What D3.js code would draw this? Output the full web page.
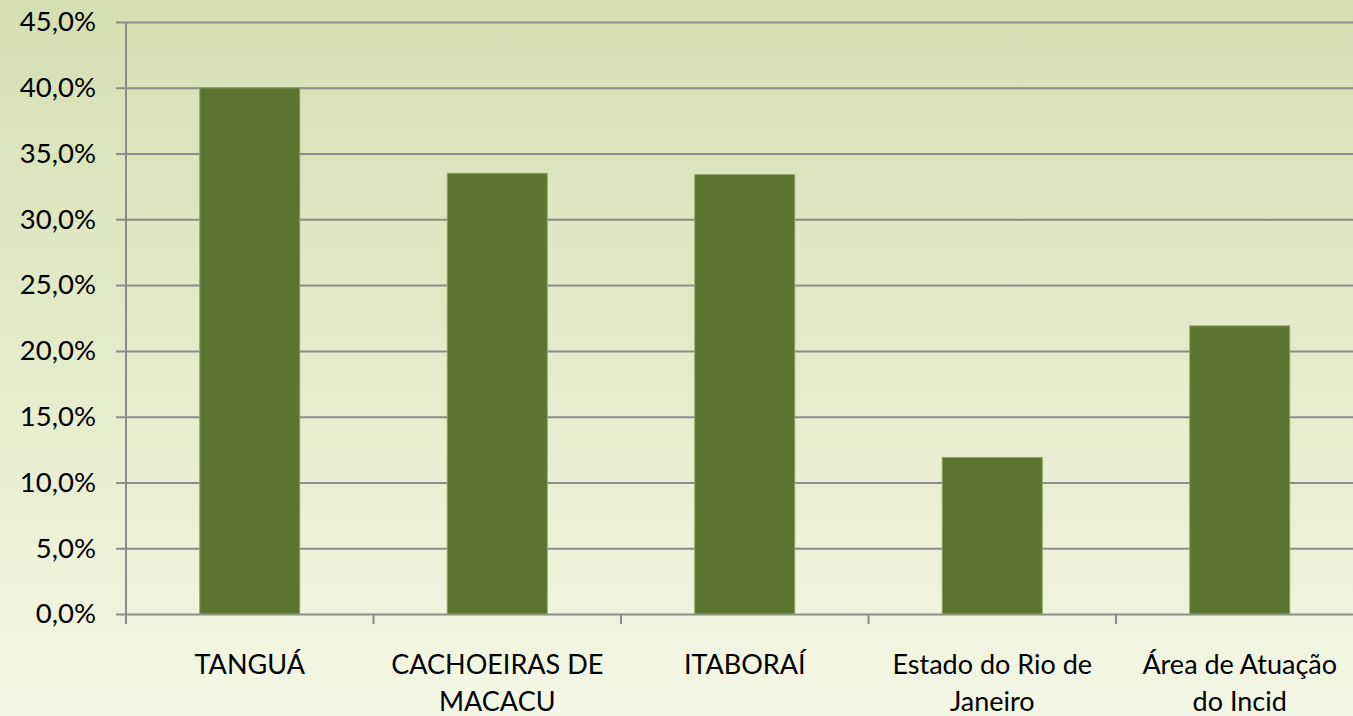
<!DOCTYPE html>
<html>
<head>
<meta charset="utf-8">
<script src="https://cdn.jsdelivr.net/npm/d3@7"></script>
<style>
  body { margin: 0; overflow: hidden; }
  text { font-family: Lato, "Open Sans", sans-serif; fill: #000; }
</style>
</head>
<body>
<div id="container"></div>
<script>
/* DATA */
const categories = ["TANGUÁ", "CACHOEIRAS DE MACACU", "ITABORAÍ", "Estado do Rio de Janeiro", "Área de Atuação do Incid"];
const values = [0.400, 0.335, 0.334, 0.119, 0.219];
const yTicks = [0, 0.05, 0.10, 0.15, 0.20, 0.25, 0.30, 0.35, 0.40, 0.45];

const width = 1353, height = 716;
const margin = { top: 22, left: 126, bottom: 102 };

const svg = d3.select("#container").append("svg")
  .attr("width", width)
  .attr("height", height);

// background gradient
const grad = svg.append("defs").append("linearGradient")
  .attr("id", "bg")
  .attr("x1", 0).attr("y1", 0).attr("x2", 0).attr("y2", 1);
grad.append("stop").attr("offset", "0%").attr("stop-color", "#d5dfb1");
grad.append("stop").attr("offset", "100%").attr("stop-color", "#f4f7e4");

svg.append("rect")
  .attr("width", width).attr("height", height)
  .attr("fill", "url(#bg)");

/* SCALES */
const yScale = d3.scaleLinear()
  .domain([0, 0.45])
  .range([height - margin.bottom, margin.top]);

const xScale = d3.scaleBand()
  .domain(categories)
  .range([margin.left, margin.left + 247.5 * categories.length])
  .paddingInner(0.596)
  .paddingOuter(0.298);

const fmt = d => d3.format(".1f")(d * 100).replace(".", ",") + "%";

// gridlines + y tick labels
const yAxis = d3.axisLeft(yScale)
  .tickValues(yTicks)
  .tickFormat(fmt)
  .tickSize(-(width - margin.left + 20));

const gy = svg.append("g")
  .attr("transform", `translate(${margin.left},0)`)
  .call(yAxis);
gy.select(".domain").remove();
gy.selectAll(".tick line")
  .attr("x1", -10)
  .attr("stroke", "#8c8c8c")
  .attr("stroke-width", 2);
gy.selectAll(".tick text")
  .style("font-size", "27.5px")
  .attr("x", -30);

// y axis line
svg.append("line")
  .attr("x1", margin.left).attr("x2", margin.left)
  .attr("y1", margin.top).attr("y2", yScale(0) + 10)
  .attr("stroke", "#8c8c8c")
  .attr("stroke-width", 2);

// bars
svg.selectAll(".bar")
  .data(values)
  .join("rect")
  .attr("class", "bar")
  .attr("x", (d, i) => xScale(categories[i]))
  .attr("width", xScale.bandwidth())
  .attr("y", d => yScale(d))
  .attr("height", d => yScale(0) - yScale(d))
  .attr("fill", "#5c7430")
  .attr("stroke", "#8fa266")
  .attr("stroke-width", 1);

// x axis ticks between categories
const step = xScale.step();
const xb = d3.range(categories.length + 1).map(i => margin.left + i * step);
svg.selectAll(".xtick")
  .data(xb)
  .join("line")
  .attr("x1", d => d).attr("x2", d => d)
  .attr("y1", yScale(0)).attr("y2", yScale(0) + 10)
  .attr("stroke", "#8c8c8c")
  .attr("stroke-width", 2);

// category labels (wrapped)
const labels = svg.selectAll(".xlabel")
  .data(categories)
  .join("text")
  .attr("class", "xlabel")
  .attr("text-anchor", "middle")
  .style("font-size", "27px")
  .attr("x", d => xScale(d) + xScale.bandwidth() / 2)
  .attr("y", yScale(0) + 60);

labels.each(function(d) {
  const t = d3.select(this);
  const x = t.attr("x");
  const words = d.split(" ");
  let line = [];
  let tspan = t.append("tspan").attr("x", x).attr("dy", 0);
  words.forEach(w => {
    line.push(w);
    tspan.text(line.join(" "));
    if (tspan.node().getComputedTextLength() > 222 && line.length > 1) {
      line.pop();
      tspan.text(line.join(" "));
      line = [w];
      tspan = t.append("tspan").attr("x", x).attr("dy", 37).text(w);
    }
  });
});
</script>
</body>
</html>
